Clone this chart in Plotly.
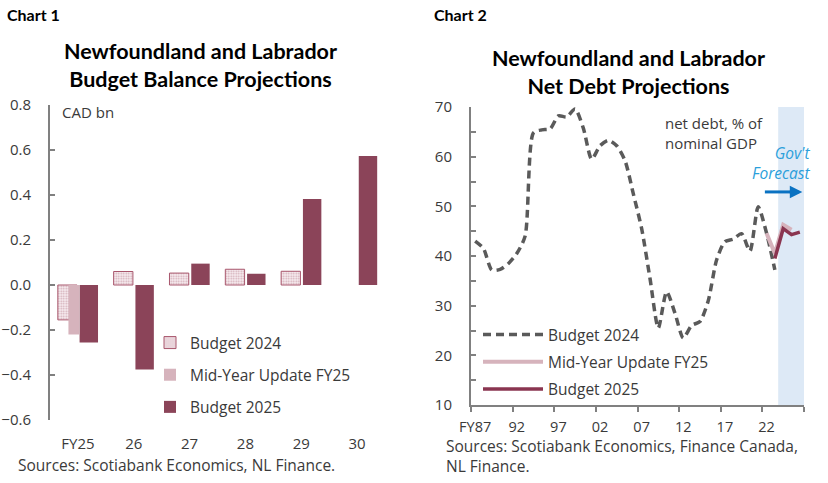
import plotly.graph_objects as go

# ---------------- Chart 1 data ----------------
bal_categories = ["FY25", "26", "27", "28", "29", "30"]
bal_budget2024 = [-0.155, 0.06, 0.053, 0.07, 0.061, None]
bal_midyear = [-0.22, None, None, None, None, None]
bal_budget2025 = [-0.255, -0.375, 0.095, 0.05, 0.382, 0.573]
bal_yticks = [-0.6, -0.4, -0.2, 0.0, 0.2, 0.4, 0.6, 0.8]

# ---------------- Chart 2 data ----------------
debt_years = list(range(1987, 2027))
debt_budget2024 = [43.0, 41.5, 37.2, 37.3, 38.5, 40.5, 44.0, 64.8, 65.4, 65.6,
                   68.2, 68.0, 69.6, 65.7, 59.5, 62.2, 63.3, 62.2, 59.2, 52.5,
                   45.5, 35.5, 25.5, 32.8, 28.5, 23.5, 26.0, 26.8, 31.0, 39.2,
                   42.9, 43.4, 44.5, 41.0, 49.9, 44.6, 37.2, None, None, None]
debt_midyear = [None] * 35 + [44.6, 40.5, 46.3, 45.3, None]
debt_budget2025 = [None] * 36 + [39.5, 45.5, 44.3, 44.8]
debt_ticklabels = ["FY87", "92", "97", "02", "07", "12", "17", "22"]
debt_tickyears = [1987, 1992, 1997, 2002, 2007, 2012, 2017, 2022]

MAROON = "#8B4459"
PINK = "#D6B3BC"
GRAY_LINE = "#5A5A5A"
AXIS = "#808080"
TXT = "#3A3A3A"
FONT = "Open Sans"
TFONT = "Lato"

fig = go.Figure()

# ---- Chart 1 bars ----
fig.add_trace(go.Bar(
    x=bal_categories, y=bal_budget2024, name="Budget 2024",
    offset=-0.36, width=0.345,
    marker=dict(color="#F6EAED", line=dict(color="#A8566C", width=1),
                pattern=dict(shape=".", fgcolor="#A86478", bgcolor="#F8EEF1",
                             size=2.5, solidity=0.4)),
    legend="legend", legendgroup="a", xaxis="x", yaxis="y"))
fig.add_trace(go.Bar(
    x=bal_categories, y=bal_midyear, name="Mid-Year Update FY25",
    offset=-0.17, width=0.19, marker=dict(color=PINK, line=dict(width=0)),
    legend="legend", legendgroup="b", xaxis="x", yaxis="y"))
fig.add_trace(go.Bar(
    x=bal_categories, y=bal_budget2025, name="Budget 2025",
    offset=0.03, width=0.33, marker=dict(color=MAROON, line=dict(width=0)),
    legend="legend", legendgroup="c", xaxis="x", yaxis="y"))

# ---- Chart 2 lines ----
fig.add_trace(go.Scatter(
    x=debt_years, y=debt_budget2024, name="Budget 2024", mode="lines",
    line=dict(color=GRAY_LINE, width=3.5, dash="8px,5px", shape="spline", smoothing=0.7),
    legend="legend2", legendgroup="d", xaxis="x3", yaxis="y3"))
fig.add_trace(go.Scatter(
    x=debt_years, y=debt_midyear, name="Mid-Year Update FY25", mode="lines",
    line=dict(color=PINK, width=4),
    legend="legend2", legendgroup="e", xaxis="x3", yaxis="y3"))
fig.add_trace(go.Scatter(
    x=debt_years, y=debt_budget2025, name="Budget 2025", mode="lines",
    line=dict(color="#8A3550", width=3.5),
    legend="legend2", legendgroup="f", xaxis="x3", yaxis="y3"))

W, H = 828, 483
def px_x(p):
    return p / W
def px_y(p):
    return 1 - p / H

tickfont = dict(family=FONT, size=15, color=TXT)
xtickfont = dict(family=FONT, size=14.5, color=TXT)
legfont = dict(family=FONT, size=15.5, color=TXT)

fig.update_layout(
    width=W, height=H, margin=dict(l=0, r=0, t=0, b=0, autoexpand=False),
    paper_bgcolor="white", plot_bgcolor="rgba(0,0,0,0)",
    font=dict(family=FONT, size=15, color=TXT),
    barmode="overlay", showlegend=True,
    xaxis=dict(domain=[px_x(50), px_x(385)], anchor="y", type="category",
               range=[-0.5, 5.5], showline=False, showgrid=False, ticks="",
               tickfont=tickfont, ticklabelstandoff=13, zeroline=False,
               automargin=False),
    xaxis2=dict(overlaying="x", anchor="free", position=px_y(285),
                range=[-0.5, 5.5], showline=True, linecolor=AXIS, linewidth=2,
                tickvals=[-0.5, 0.5, 1.5, 2.5, 3.5, 4.5, 5.5], ticks="inside",
                ticklen=5, tickcolor=AXIS, tickwidth=1.5, showticklabels=False,
                showgrid=False, zeroline=False, automargin=False),
    yaxis=dict(domain=[px_y(420), px_y(105)], anchor="x", range=[-0.6, 0.8],
               tickvals=bal_yticks, tickformat=".1f", showline=True,
               linecolor=AXIS, linewidth=2, ticks="inside", ticklen=5,
               tickcolor=AXIS, tickwidth=1.5, showgrid=False, zeroline=False,
               tickfont=tickfont, ticklabelstandoff=14, automargin=False),
    xaxis3=dict(domain=[px_x(471), px_x(804)], anchor="y3", range=[1986.5, 2026.5],
                tickvals=debt_tickyears, ticktext=debt_ticklabels, ticks="",
                showline=True, linecolor=AXIS, linewidth=2, showgrid=False,
                zeroline=False, tickfont=xtickfont, ticklabelstandoff=8,
                automargin=False,
                minor=dict(tick0=1986.5, dtick=5, ticks="outside", ticklen=5,
                           tickcolor=AXIS, tickwidth=1.5, showgrid=False)),
    yaxis3=dict(domain=[px_y(405), px_y(107)], anchor="x3", range=[10, 70],
                dtick=10, showline=True, linecolor=AXIS, linewidth=2,
                ticks="inside", ticklen=5, tickcolor=AXIS, tickwidth=1.5,
                showgrid=False, zeroline=False, tickfont=tickfont,
                ticklabelstandoff=14, automargin=False,
                minor=dict(dtick=5, ticks="inside", ticklen=5, tickcolor=AXIS,
                           tickwidth=1.5, showgrid=False)),
    legend=dict(x=px_x(150), y=px_y(326), xanchor="left", yanchor="top",
                traceorder="grouped", tracegroupgap=9, bgcolor="rgba(0,0,0,0)",
                font=legfont, itemwidth=30),
    legend2=dict(x=px_x(478), y=px_y(318), xanchor="left", yanchor="top",
                 traceorder="grouped", tracegroupgap=4, bgcolor="rgba(0,0,0,0)",
                 font=legfont, itemwidth=60),
)

# forecast shading
fig.add_shape(type="rect", xref="x3", yref="y3 domain", x0=2023.4, x1=2026.5,
              y0=0, y1=1, fillcolor="#DDE9F6", line=dict(width=0), layer="below")
# forecast arrow shaft + head
fig.add_shape(type="line", xref="x3", yref="y3", x0=2021.8, x1=2025.2, y0=52.9, y1=52.9,
              line=dict(color="#0A72C2", width=3))

ann = []
ann.append(dict(text="<b>Chart 1</b>", x=px_x(5), y=px_y(15), xref="paper", yref="paper",
                xanchor="left", yanchor="middle", showarrow=False,
                font=dict(family=TFONT, size=16, color="black")))
ann.append(dict(text="<b>Chart 2</b>", x=px_x(432), y=px_y(15), xref="paper", yref="paper",
                xanchor="left", yanchor="middle", showarrow=False,
                font=dict(family=TFONT, size=16, color="black")))
ann.append(dict(text="<b>Newfoundland and Labrador<br>Budget Balance Projections</b>",
                x=px_x(200), y=px_y(65), xref="paper", yref="paper",
                xanchor="center", yanchor="middle", showarrow=False,
                font=dict(family=TFONT, size=21.5, color="black")))
ann.append(dict(text="<b>Newfoundland and Labrador<br>Net Debt Projections</b>",
                x=px_x(628), y=px_y(72), xref="paper", yref="paper",
                xanchor="center", yanchor="middle", showarrow=False,
                font=dict(family=TFONT, size=21.5, color="black")))
ann.append(dict(text="CAD bn", x=px_x(60), y=px_y(112), xref="paper", yref="paper",
                xanchor="left", yanchor="middle", showarrow=False,
                font=dict(family=FONT, size=15, color=TXT)))
ann.append(dict(text="Sources: Scotiabank Economics, NL Finance.", x=px_x(16), y=px_y(465),
                xref="paper", yref="paper", xanchor="left", yanchor="middle",
                showarrow=False, font=legfont))
ann.append(dict(text="Sources: Scotiabank Economics, Finance Canada,", x=px_x(444),
                y=px_y(446), xref="paper", yref="paper", xanchor="left",
                yanchor="middle", align="left", showarrow=False, font=legfont))
ann.append(dict(text="NL Finance.", x=px_x(444), y=px_y(466), xref="paper", yref="paper",
                xanchor="left", yanchor="middle", align="left", showarrow=False,
                font=legfont))
ann.append(dict(text="net debt, % of<br>nominal GDP", x=px_x(663), y=px_y(133),
                xref="paper", yref="paper", xanchor="left", yanchor="middle",
                align="left", showarrow=False, font=dict(family=FONT, size=15, color=TXT)))
ann.append(dict(text="Gov't<br>Forecast", x=px_x(812), y=px_y(163), xref="paper",
                yref="paper", xanchor="right", yanchor="middle", align="right",
                showarrow=False,
                font=dict(family=FONT, size=15.5, color="#2B9FDB", style="italic")))
ann.append(dict(text="", x=2026.3, y=52.9, xref="x3", yref="y3", ax=2024.6, ay=52.9,
                axref="x3", ayref="y3", showarrow=True, arrowhead=2, arrowsize=1,
                arrowwidth=2.5, arrowcolor="#0A72C2"))
fig.update_layout(annotations=ann)

fig.write_html("out.html", config={"displayModeBar": False},
               post_script="document.body.style.margin='0';")
